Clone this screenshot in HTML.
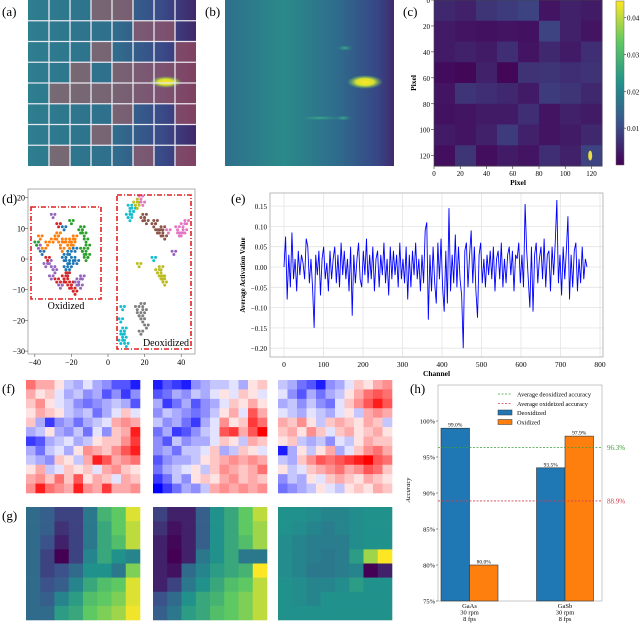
<!DOCTYPE html>
<html><head><meta charset="utf-8"><style>
body{margin:0;background:#fff}
svg{display:block;font-family:"Liberation Serif",serif}
</style></head><body>
<svg id="fig" width="640" height="623" viewBox="0 0 640 623">
<defs>
<linearGradient id="gb" x1="0" x2="1" y1="0" y2="0">
<stop offset="0" stop-color="#2f6f8c"/><stop offset="0.35" stop-color="#2a8a8a"/><stop offset="0.65" stop-color="#2e6e8c"/><stop offset="0.9" stop-color="#374786"/><stop offset="1" stop-color="#3e2b6e"/></linearGradient>
<linearGradient id="ga" x1="0" x2="1" y1="0" y2="0">
<stop offset="0" stop-color="#2d7e8e"/><stop offset="0.5" stop-color="#2f6f8c"/><stop offset="0.8" stop-color="#3a4a88"/><stop offset="1" stop-color="#40286a"/></linearGradient>
<linearGradient id="gv" x1="0" x2="0" y1="1" y2="0">
<stop offset="0" stop-color="#440154"/><stop offset="0.25" stop-color="#3b528b"/><stop offset="0.5" stop-color="#21918c"/><stop offset="0.75" stop-color="#5ec962"/><stop offset="1" stop-color="#fde725"/></linearGradient>
<radialGradient id="spot"><stop offset="0" stop-color="#fde725"/><stop offset="0.5" stop-color="#d8e030"/><stop offset="1" stop-color="#5ec962" stop-opacity="0"/></radialGradient>
<radialGradient id="faint"><stop offset="0" stop-color="#3fae8a"/><stop offset="1" stop-color="#2a7a8b" stop-opacity="0"/></radialGradient>
</defs>
<g id="pa"></g>
<g id="pb"></g>
<g id="pc"></g>
<g id="pd"></g>
<g id="pe"></g>
<g id="pf"></g>
<g id="pg"></g>
<g id="ph"></g>
<text x="2" y="16" font-size="13">(a)</text>
<text x="205" y="16" font-size="13">(b)</text>
<text x="403" y="16" font-size="13">(c)</text>
<text x="2" y="203" font-size="13">(d)</text>
<text x="231" y="203" font-size="13">(e)</text>
<text x="2" y="393" font-size="13">(f)</text>
<text x="2" y="520" font-size="13">(g)</text>
<text x="410" y="393" font-size="13">(h)</text>
</svg>
<script>
// ===== DATA =====
const aMask=[[0,0,0,1,1,0,0,0],[0,0,0,0,0,1,1,0],[0,0,0,1,0,0,0,1],[0,0,1,0,1,1,1,1],[0,1,1,1,1,1,1,1],[0,0,0,0,1,0,0,1],[0,0,0,1,0,0,0,0],[0,1,0,0,0,1,0,1]];
const cBlocks=[[0.12,0.1,0.16,0.18,0.2,0.06,0.1,0.08],[0.08,0.06,0.05,0.06,0.05,0.2,0.1,0.06],[0.08,0.1,0.08,0.14,0.06,0.12,0.08,0.14],[0.03,0.02,0.1,0.02,0.15,0.16,0.14,0.15],[0.06,0.16,0.14,0.12,0.08,0.18,0.16,0.12],[0.05,0.06,0.08,0.08,0.14,0.06,0.1,0.08],[0.08,0.06,0.1,0.18,0.1,0.06,0.08,0.12],[0.04,0.16,0.04,0.08,0.06,0.14,0.1,0.2]];
const cTicks=[0,20,40,60,80,100,120];
const cbTicks=[0.01,0.02,0.03,0.04];
const dX=[-30,-28,-26,-24,-22,-20,-18,-25,-27,-21,-19,-33,-35,-14,-13,-12,-11,-13,-12,-14,-11,-15,-23,-24,-22,-21,-20,-19,-23,-22,-17,-18,-24,-25,-23,-21,-19,-20,-18,-22,-30,-32,-29,-34,-31,-16,-15,-17,-14,-36,-38,-33,-28,-26,-39,-37,-30,-27,-20,-24,
12,13,11,14,12,16,17,15,18,19,20,21,19,25,27,29,30,31,28,26,33,38,40,41,42,39,43,28,29,30,31,27,29,30,8,7,9,8,7,9,8,10,17,18,19,20,16,21,18,19,36,17,25];
const dY=[6,7,5,6,5,6,7,3,8,4,5,5,3,10,8,6,4,2,0,3,1,9,1,0,-1,2,-2,0,-3,-4,-1,3,-6,-8,-7,-9,-10,-8,-11,-5,-3,-1,-4,-2,-6,-7,-9,-8,-6,2,4,0,-7,-9,5,7,14,11,12,10,
17,15,14,16,13,17,19,18,20,18,14,12,13,11,9,8,10,7,9,12,9,10,8,11,9,8,12,-5,-6,-7,-8,-4,-3,-6,-16,-20,-23,-25,-27,-26,-24,-28,-18,-19,-20,-17,-16,-22,-24,-15,2,-2,0];
const dC=[1,1,1,1,1,1,1,1,1,1,1,1,1,2,2,2,2,2,2,2,2,2,0,0,0,0,0,0,0,0,0,0,3,3,3,3,3,3,3,3,4,4,4,4,4,4,4,4,4,0,4,3,3,4,2,1,4,3,2,0,
9,9,9,9,9,8,8,8,6,6,5,5,5,5,5,5,5,5,5,5,6,6,6,6,6,6,6,8,8,8,8,8,8,8,9,9,9,9,9,9,9,9,7,7,7,7,7,7,7,7,4,8,9];
const dXTicks=[-40,-20,0,20,40];
const dYTicks=[20,10,0,-10,-20,-30];
const eVals=[0,7.5,-8,3,-5,8.5,-3,2,-6,4,-2,3,1,-3,7,5,-4,2,-5,-15,3,-2,4,-7,2,5,-3,1,-6,4,-3,2,5,-4,3,-5,6,-2,4,-3,2,-6,5,-12,3,-4,2,6,-3,-5,4,-2,7,-4,3,-3,5,-6,2,4,-5,3,-2,6,-4,2,-7,5,-3,4,-2,3,-5,6,-3,2,-4,5,-8,3,-5,4,-2,6,-3,2,-6,3,-4,9,11,-13,3,-6,5,-4,-9,6,-3,7,-5,-11,4,-9,14.5,-6,3,-4,8,-5,5,-3,-7,-20,4,6,-5,3,9,-4,5,-6,-12.5,3,6,-4,2,-5,3,-2,4,-3,5,-6,2,4,-3,6,-5,2,-4,3,5,-2,4,-6,3,2,6,-4,3,-5,15.5,4,-3,-10,5,-11,3,6,-4,2,5,-3,7,-5,3,4,-6,5,-2,6,16.5,-4,3,-7,5,-3,4,12.5,-8,3,-5,4,6,-6,2,-4,5,-3,2,0];
const eXTicks=[0,100,200,300,400,500,600,700,800];
const eYTicks=[0.15,0.10,0.05,0.00,-0.05,-0.10,-0.15,-0.20];
const f1=[[5,3,3,1,-2,-3,-1,-3,-4,-6,-6,-8],[3,1,2,-1,-3,-2,-4,-3,-6,-4,-7,-4],[2,4,1,-1,-2,-4,-5,-4,-3,-2,-3,-6],[1,3,2,1,-2,-3,-2,-5,-3,-1,2,-1],[2,-3,-7,-4,-3,-5,-3,-2,-1,3,4,3],[-3,-2,1,-3,-4,-2,-5,-1,-4,2,3,8],[-7,-6,-3,-2,-1,-3,-2,1,2,2,4,7],[-3,-5,-2,-1,-3,1,4,3,2,4,6,8],[-2,-3,-4,2,1,-2,3,8,6,3,4,5],[1,3,-2,-1,2,1,2,-1,3,4,2,1],[3,4,2,5,2,6,1,3,2,-1,3,2],[4,8,5,4,3,8,4,3,7,3,3,4]];
const f2=[[-8,-6,-7,-8,-4,-3,-2,-2,-1,-3,1,2],[-6,-5,-3,-4,-2,-3,-1,1,-1,2,1,-1],[-3,-7,-5,-3,-6,-4,-3,-1,2,1,3,1],[-4,-2,-3,-4,-5,-4,-2,1,3,-1,6,3],[-2,-4,-3,-5,-7,-3,-1,4,1,2,7,5],[-5,-3,-7,-6,-4,-2,-1,6,7,3,6,9],[-4,-6,-2,-4,-3,-3,-1,2,1,-2,3,2],[-4,-3,-5,-2,-2,-1,2,-3,-2,2,1,-1],[-6,-4,-3,-3,-2,1,2,3,4,3,4,3],[-5,-3,-2,-1,1,-2,2,4,3,2,3,5],[-7,-5,-2,-4,1,2,1,3,4,2,3,2],[-9,-7,-5,-3,-4,-2,3,4,3,4,3,4]];
const f3=[[-2,-3,-5,-6,-8,-4,-3,-1,2,1,3,4],[-1,-4,-6,-3,-5,-3,-2,1,3,5,6,5],[-3,-2,-4,-2,-4,-5,-1,2,4,6,8,6],[-1,-2,-3,-1,-2,-3,-1,1,-2,3,4,3],[3,2,4,1,-2,2,3,2,1,3,2,-2],[2,3,1,4,2,-1,2,3,1,2,3,1],[1,2,-2,-3,-2,-4,-1,-2,1,3,2,2],[-8,-3,1,-2,1,3,-3,-1,2,4,5,3],[-2,-3,2,4,6,5,6,7,8,9,6,5],[1,-2,-1,2,3,4,5,3,4,6,5,2],[-4,-2,-3,1,-1,2,3,2,1,3,2,1],[-5,-4,-3,-2,1,-1,-2,1,2,1,3,2]];
const g1=[[.35,.3,.2,.2,.4,.65,.75,.95],[.35,.3,.15,.2,.4,.6,.75,.9],[.35,.25,.1,.2,.4,.6,.7,.9],[.35,.2,0,.2,.45,.6,.5,.45],[.35,.2,.25,.35,.5,.5,.4,.8],[.35,.25,.3,.45,.6,.7,.75,.95],[.35,.3,.45,.55,.7,.75,.8,.95],[.35,.35,.55,.6,.75,.8,.85,.98]];
const g2=[[.2,.1,.1,.3,.5,.6,.75,.9],[.15,.05,.1,.3,.5,.6,.75,.85],[.1,.02,.1,.3,.5,.6,.7,.85],[.1,0,.1,.4,.5,.6,.4,.4],[.1,.05,.35,.45,.55,.6,.65,1],[.1,.2,.4,.5,.6,.7,.75,.9],[.25,.35,.5,.6,.65,.75,.8,.9],[.3,.4,.55,.6,.7,.75,.8,.9]];
const g3=[[.5,.5,.48,.45,.45,.48,.5,.5],[.5,.48,.45,.42,.45,.48,.5,.5],[.48,.45,.42,.42,.42,.48,.5,.5],[.48,.45,.42,.4,.42,.55,.85,1],[.48,.45,.4,.4,.42,.45,0,.1],[.5,.48,.45,.45,.48,.55,.5,.5],[.5,.48,.45,.5,.5,.5,.5,.5],[.5,.5,.5,.5,.5,.5,.5,.5]];
const hCats=["GaAs","GaSb"];
const hDeox=[99.0,93.5];
const hOx=[80.0,97.9];
const hAvgDeox=96.3, hAvgOx=88.9;
const hTicks=[75,80,85,90,95,100];

// ===== HELPERS =====
const NS="http://www.w3.org/2000/svg";
function mk(parent,tag,attrs,txt){const e=document.createElementNS(NS,tag);for(const k in attrs)e.setAttribute(k,attrs[k]);if(txt!==undefined)e.textContent=txt;parent.appendChild(e);return e;}
function lerpC(a,b,t){const pa=[1,3,5].map(i=>parseInt(a.substr(i,2),16)),pb=[1,3,5].map(i=>parseInt(b.substr(i,2),16));return "rgb("+pa.map((v,i)=>Math.round(v+(pb[i]-v)*t)).join(",")+")";}
const VS=["#440154","#3b528b","#21918c","#5ec962","#fde725"];
function viridis(v){v=Math.max(0,Math.min(1,v));const s=v*4,i=Math.min(3,Math.floor(s));return lerpC(VS[i],VS[i+1],s-i);}
function bwr(v){v=v/9;return v<0?lerpC("#ffffff","#0000ff",-v):lerpC("#ffffff","#ff0000",v);}
const pa=document.getElementById('pa'),pb=document.getElementById('pb'),pc=document.getElementById('pc'),pd=document.getElementById('pd'),pe=document.getElementById('pe'),pf=document.getElementById('pf'),pg=document.getElementById('pg'),ph=document.getElementById('ph');

// ===== (a) =====
(function(){const x0=28,y0=0,w=168,h=166;
let r=mk(pa,'rect',{x:x0,y:y0,width:w,height:h,fill:'url(#ga)'});

const cw=w/8,ch=h/8;
aMask.forEach((row,i)=>row.forEach((m,j)=>{if(m){let c=mk(pa,'rect',{x:x0+j*cw,y:y0+i*ch,width:cw,height:ch,fill:'#c05a5a','fill-opacity':0.5});}}));
let s=mk(pa,'ellipse',{cx:166,cy:82,rx:16,ry:6,fill:'url(#spot)'});

for(let k=1;k<8;k++){mk(pa,'line',{x1:x0+k*cw,x2:x0+k*cw,y1:y0,y2:y0+h,stroke:'#e8e8f0','stroke-width':1.3});mk(pa,'line',{x1:x0,x2:x0+w,y1:y0+k*ch,y2:y0+k*ch,stroke:'#e8e8f0','stroke-width':1.3});}
})();

// ===== (b) =====
(function(){let r=mk(pb,'rect',{x:225,y:0,width:169,height:166,fill:'url(#gb)'});

[[345,48,9,3],[343,118,9,3],[320,118,25,2.5]].forEach(p=>{let e=mk(pb,'ellipse',{cx:p[0],cy:p[1],rx:p[2],ry:p[3],fill:'url(#faint)'});});
let s=mk(pb,'ellipse',{cx:365,cy:82,rx:18,ry:7,fill:'url(#spot)'});
})();

// ===== (c) =====
(function(){const x0=434,y0=0,W=168,H=166;
const sx=v=>x0+v/128*W, sy=v=>y0+v/128*H;
const bw=W/8,bh=H/8;
cBlocks.forEach((row,i)=>row.forEach((v,j)=>{let c=mk(pc,'rect',{x:x0+j*bw,y:y0+i*bh,width:bw+0.5,height:bh+0.5,fill:viridis(v)});}));
let hs=mk(pc,'ellipse',{cx:sx(119),cy:sy(120),rx:2,ry:5,fill:'#e8e040'});
mk(pc,'rect',{x:x0,y:y0,width:W,height:H,fill:'none',stroke:'#444','stroke-width':0.6});
cTicks.forEach(t=>{mk(pc,'line',{x1:x0-3,x2:x0,y1:sy(t),y2:sy(t),stroke:'#333','stroke-width':0.6});
let l=mk(pc,'text',{x:x0-4,y:sy(t)+3,'font-size':7,'text-anchor':'end'},t);
mk(pc,'line',{x1:sx(t),x2:sx(t),y1:y0+H,y2:y0+H+3,stroke:'#333','stroke-width':0.6});
let m=mk(pc,'text',{x:sx(t),y:y0+H+10,'font-size':7,'text-anchor':'middle'},t);});
let xl=mk(pc,'text',{x:x0+W/2,y:y0+H+19,'font-size':7.5,'font-weight':'bold','text-anchor':'middle'},'Pixel');
let yl=mk(pc,'text',{x:0,y:0,'font-size':7.5,'font-weight':'bold','text-anchor':'middle',transform:'translate(416,83) rotate(-90)'},'Pixel');
const cx=616,cy0=1,cH=164,cmax=0.0445,cmin=0.0;
const cby=v=>cy0+cH-(v-cmin)/(cmax-cmin)*cH;
let cb=mk(pc,'rect',{x:cx,y:cy0,width:8,height:cH,fill:'url(#gv)',stroke:'#666','stroke-width':0.5});
cbTicks.forEach(t=>{mk(pc,'line',{x1:cx+8,x2:cx+10,y1:cby(t),y2:cby(t),stroke:'#333','stroke-width':0.6});let l=mk(pc,'text',{x:cx+11,y:cby(t)+3,'font-size':7},t.toFixed(2));});
})();

// ===== (d) =====
(function(){const x0=28,y0=189,W=167,H=165;
const sx=v=>108+v*1.83, sy=v=>259-v*3.07;
const cols=["#1f77b4","#ff7f0e","#2ca02c","#d62728","#9467bd","#8c564b","#e377c2","#7f7f7f","#bcbd22","#17becf"];
mk(pd,'rect',{x:x0,y:y0,width:W,height:H,fill:'none',stroke:'#999','stroke-width':0.8});
dX.forEach((x,i)=>{const y=dY[i],c=cols[dC[i]];
for(let k=0;k<3;k++){let p=mk(pd,'circle',{cx:sx(x)+(k-1)*1.8,cy:sy(y)+((k%2)*2-1)*1.6,r:1.5,fill:c});}});
let b1=mk(pd,'rect',{x:31,y:207,width:70,height:92,fill:'none',stroke:'#e02020','stroke-width':1.6,'stroke-dasharray':'5,2,1,2'});
let b2=mk(pd,'rect',{x:117,y:195,width:74,height:154,fill:'none',stroke:'#e02020','stroke-width':1.6,'stroke-dasharray':'5,2,1,2'});
let t1=mk(pd,'text',{x:66,y:309,'font-size':10,'text-anchor':'middle'},'Oxidized');
let t2=mk(pd,'text',{x:166,y:346,'font-size':10,'text-anchor':'middle'},'Deoxidized');
dXTicks.forEach(t=>{mk(pd,'line',{x1:sx(t),x2:sx(t),y1:y0+H,y2:y0+H+3,stroke:'#555','stroke-width':0.6});let l=mk(pd,'text',{x:sx(t),y:y0+H+11,'font-size':8,'text-anchor':'middle'},t<0?'\u2212'+(-t):t);});
dYTicks.forEach(t=>{mk(pd,'line',{x1:x0-3,x2:x0,y1:sy(t),y2:sy(t),stroke:'#555','stroke-width':0.6});let l=mk(pd,'text',{x:x0-3,y:sy(t)+3,'font-size':8,'text-anchor':'end'},t<0?'\u2212'+(-t):t);});
})();

// ===== (e) =====
(function(){const x0=270,y0=193,W=333,H=164;
const sx=v=>284+v*0.395, sy=v=>267-v*406;
eXTicks.forEach(t=>{mk(pe,'line',{x1:sx(t),x2:sx(t),y1:y0,y2:y0+H,stroke:'#e4e4e4','stroke-width':0.8});});
eYTicks.forEach(t=>{mk(pe,'line',{x1:x0,x2:x0+W,y1:sy(t),y2:sy(t),stroke:'#e4e4e4','stroke-width':0.8});});
let d='';eVals.forEach((v,i)=>{d+=(i?'L':'M')+sx(i*767/(eVals.length-1)).toFixed(2)+','+sy(v/100).toFixed(2);});
let p=mk(pe,'path',{d:d,fill:'none',stroke:'#0000ff','stroke-width':0.9});
mk(pe,'rect',{x:x0,y:y0,width:W,height:H,fill:'none',stroke:'#aaa','stroke-width':0.8});
eXTicks.forEach(t=>{let l=mk(pe,'text',{x:sx(t),y:y0+H+10,'font-size':7.5,'text-anchor':'middle'},t);});
eYTicks.forEach(t=>{let s=t.toFixed(2);if(t<0)s='\u2212'+(-t).toFixed(2);let l=mk(pe,'text',{x:x0-3,y:sy(t)+3,'font-size':7,'text-anchor':'end'},s);});
let xl=mk(pe,'text',{x:x0+W/2,y:y0+H+19,'font-size':7.5,'font-weight':'bold','text-anchor':'middle'},'Channel');
let yl=mk(pe,'text',{x:0,y:0,'font-size':7,'font-weight':'bold','text-anchor':'middle',transform:'translate(245,275) rotate(-90)'},'Average Activation Value');
})();

// ===== (f) & (g) =====
function heat(parent,data,x0,y0,W,H,cf,name){const n=data.length,m=data[0].length,cw=W/m,ch=H/n;
data.forEach((row,i)=>row.forEach((v,j)=>{let c=mk(parent,'rect',{x:x0+j*cw,y:y0+i*ch,width:cw+0.3,height:ch+0.3,fill:cf(v)});}));}
heat(pf,f1,26,380,114,113,bwr,'feature-cell');
heat(pf,f2,153,380,114,113,bwr,'feature-cell');
heat(pf,f3,278,380,114,113,bwr,'feature-cell');
heat(pg,g1,26,507,114,113,viridis,'attention-cell');
heat(pg,g2,153,507,114,113,viridis,'attention-cell');
heat(pg,g3,278,507,114,113,viridis,'attention-cell');

// ===== (h) =====
(function(){const x0=438,y0=385,W=164,H=216;
const sy=v=>601-(v-75)*7.2;
const groups=[469.5,565];const bw=28.5;
mk(ph,'rect',{x:x0,y:y0,width:W,height:H,fill:'none',stroke:'#bbb','stroke-width':0.8});
hCats.forEach((c,i)=>{const gx=groups[i];
let b=mk(ph,'rect',{x:gx-bw,y:sy(hDeox[i]),width:bw,height:601-sy(hDeox[i]),fill:'#1f77b4',stroke:'#333','stroke-width':0.6});
let o=mk(ph,'rect',{x:gx,y:sy(hOx[i]),width:bw,height:601-sy(hOx[i]),fill:'#ff7f0e',stroke:'#333','stroke-width':0.6});
let l1=mk(ph,'text',{x:gx-bw/2,y:sy(hDeox[i])-1.5,'font-size':5.5,'text-anchor':'middle'},hDeox[i].toFixed(1)+'%');
let l2=mk(ph,'text',{x:gx+bw/2,y:sy(hOx[i])-1.5,'font-size':5.5,'text-anchor':'middle'},hOx[i].toFixed(1)+'%');
[c,'30 rpm','8 fps'].forEach((s,k)=>{let t=mk(ph,'text',{x:gx,y:608+k*6.5,'font-size':6.5,'text-anchor':'middle'},s);});
});
let gl=mk(ph,'line',{x1:x0,x2:x0+W,y1:sy(hAvgDeox),y2:sy(hAvgDeox),stroke:'#3aa03a','stroke-width':0.8,'stroke-dasharray':'2,1.5'});
let rl=mk(ph,'line',{x1:x0,x2:x0+W,y1:sy(hAvgOx),y2:sy(hAvgOx),stroke:'#d04050','stroke-width':0.8,'stroke-dasharray':'2,1.5'});
let gt=mk(ph,'text',{x:607,y:sy(hAvgDeox)+2.5,'font-size':7,fill:'#3aa03a'},hAvgDeox.toFixed(1)+'%');
let rt=mk(ph,'text',{x:607,y:sy(hAvgOx)+2.5,'font-size':7,fill:'#d04050'},hAvgOx.toFixed(1)+'%');
hTicks.forEach(t=>{mk(ph,'line',{x1:x0-2,x2:x0,y1:sy(t),y2:sy(t),stroke:'#333','stroke-width':0.5});let l=mk(ph,'text',{x:x0-3,y:sy(t)+2.5,'font-size':6.5,'text-anchor':'end'},t+'%');});
let yl=mk(ph,'text',{x:0,y:0,'font-size':6.5,'font-style':'italic','text-anchor':'middle',transform:'translate(410,490) rotate(-90)'},'Accuracy');
const lg=mk(ph,'g',{});
mk(lg,'line',{x1:498,x2:512,y1:394,y2:394,stroke:'#3aa03a','stroke-width':0.8,'stroke-dasharray':'2,1.5'});
mk(lg,'line',{x1:498,x2:512,y1:403.5,y2:403.5,stroke:'#d04050','stroke-width':0.8,'stroke-dasharray':'2,1.5'});
mk(lg,'rect',{x:498,y:410,width:14,height:5,fill:'#1f77b4',stroke:'#333','stroke-width':0.5});
mk(lg,'rect',{x:498,y:419.5,width:14,height:5,fill:'#ff7f0e',stroke:'#333','stroke-width':0.5});
[['Average deoxidized accuracy',396.5],['Average oxideized accuracy',406],['Deoxidized',415],['Oxidized',424.5]].forEach(a=>{let t=mk(lg,'text',{x:517,y:a[1],'font-size':6.3},a[0]);});
})();
</script>
</body></html>
